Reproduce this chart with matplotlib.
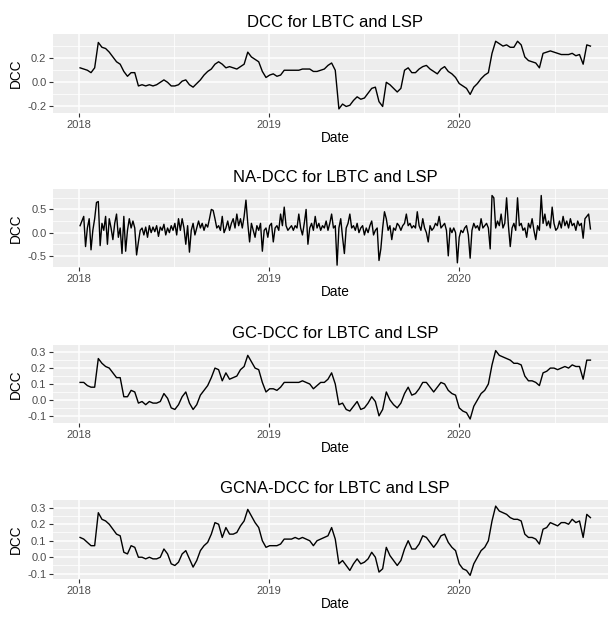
import pandas as pd
import matplotlib
matplotlib.use("Agg")
import matplotlib.pyplot as plt

plt.rcParams['font.family'] = ['Liberation Sans', 'DejaVu Sans']

# weekly readings of the smooth DCC series, starting 2018-01-03
dcc = [0.12, 0.11, 0.10, 0.08, 0.12, 0.33, 0.29, 0.28, 0.25, 0.21,
       0.17, 0.15, 0.09, 0.05, 0.08, 0.08, -0.03, -0.02, -0.03, -0.02,
       -0.03, -0.02, 0.00, 0.02, 0.00, -0.03, -0.03, -0.02, 0.01, 0.02,
       -0.02, -0.04, -0.01, 0.02, 0.06, 0.09, 0.11, 0.15, 0.17, 0.15,
       0.12, 0.13, 0.12, 0.11, 0.13, 0.15, 0.25, 0.21, 0.19, 0.17,
       0.09, 0.04, 0.06, 0.07, 0.05, 0.06, 0.10, 0.10, 0.10, 0.10,
       0.10, 0.11, 0.11, 0.11, 0.09, 0.09, 0.10, 0.11, 0.14, 0.16,
       0.10, -0.22, -0.18, -0.20, -0.19, -0.15, -0.12, -0.14, -0.13, -0.09,
       -0.05, -0.04, -0.16, -0.20, 0.00, -0.02, -0.05, -0.08, -0.05, 0.10,
       0.12, 0.08, 0.08, 0.11, 0.13, 0.14, 0.11, 0.09, 0.07, 0.11,
       0.13, 0.09, 0.07, 0.04, -0.01, -0.03, -0.05, -0.10, -0.04, -0.01,
       0.03, 0.06, 0.08, 0.24, 0.34, 0.32, 0.30, 0.31, 0.29, 0.29,
       0.34, 0.31, 0.21, 0.18, 0.17, 0.16, 0.12, 0.24, 0.25, 0.26,
       0.25, 0.24, 0.23, 0.23, 0.23, 0.24, 0.22, 0.23, 0.15, 0.31, 0.30]

gc_dcc = [0.11, 0.11, 0.09, 0.08, 0.08, 0.26, 0.23, 0.21, 0.20, 0.17,
          0.14, 0.14, 0.02, 0.02, 0.06, 0.05, -0.02, -0.01, -0.03, -0.01,
          -0.02, -0.02, -0.01, 0.04, 0.01, -0.05, -0.06, -0.03, 0.02, 0.05,
          -0.02, -0.06, -0.03, 0.03, 0.06, 0.09, 0.14, 0.20, 0.19, 0.12,
          0.17, 0.13, 0.14, 0.15, 0.19, 0.21, 0.28, 0.24, 0.20, 0.19,
          0.11, 0.05, 0.07, 0.07, 0.06, 0.08, 0.11, 0.11, 0.11, 0.11,
          0.11, 0.12, 0.11, 0.10, 0.07, 0.09, 0.11, 0.11, 0.13, 0.17,
          0.10, -0.03, -0.02, -0.06, -0.07, -0.04, -0.01, -0.06, -0.05, -0.02,
          0.02, -0.01, -0.10, -0.06, 0.05, 0.00, -0.03, -0.05, -0.02, 0.04,
          0.08, 0.03, 0.04, 0.07, 0.11, 0.11, 0.08, 0.05, 0.08, 0.11,
          0.10, 0.06, 0.04, 0.03, -0.05, -0.07, -0.08, -0.12, -0.04, 0.00,
          0.04, 0.06, 0.10, 0.22, 0.31, 0.28, 0.27, 0.26, 0.25, 0.23,
          0.23, 0.22, 0.15, 0.12, 0.12, 0.11, 0.09, 0.17, 0.18, 0.20,
          0.20, 0.19, 0.20, 0.21, 0.20, 0.22, 0.21, 0.21, 0.13, 0.25, 0.25]

gcna_dcc = [0.12, 0.11, 0.09, 0.07, 0.07, 0.27, 0.23, 0.22, 0.20, 0.17,
            0.14, 0.13, 0.03, 0.02, 0.07, 0.06, 0.00, 0.00, -0.01, 0.00,
            -0.01, -0.01, 0.00, 0.05, 0.02, -0.04, -0.05, -0.03, 0.02, 0.04,
            -0.01, -0.06, -0.02, 0.04, 0.07, 0.09, 0.14, 0.21, 0.20, 0.12,
            0.18, 0.14, 0.14, 0.15, 0.19, 0.22, 0.29, 0.25, 0.21, 0.18,
            0.10, 0.06, 0.07, 0.07, 0.07, 0.08, 0.11, 0.11, 0.11, 0.12,
            0.11, 0.12, 0.11, 0.10, 0.07, 0.10, 0.11, 0.12, 0.13, 0.18,
            0.11, -0.04, -0.02, -0.05, -0.08, -0.04, -0.01, -0.04, -0.03, -0.01,
            0.03, 0.00, -0.09, -0.07, 0.06, 0.01, -0.02, -0.05, -0.02, 0.05,
            0.10, 0.05, 0.05, 0.08, 0.13, 0.12, 0.09, 0.06, 0.09, 0.13,
            0.14, 0.09, 0.06, 0.04, -0.04, -0.07, -0.08, -0.11, -0.04, 0.00,
            0.04, 0.06, 0.10, 0.22, 0.31, 0.28, 0.27, 0.26, 0.24, 0.23,
            0.23, 0.22, 0.14, 0.12, 0.12, 0.11, 0.08, 0.17, 0.18, 0.21,
            0.20, 0.19, 0.21, 0.21, 0.20, 0.23, 0.21, 0.22, 0.12, 0.26, 0.24]

# twice-weekly readings of the noisy NA-DCC series
na_dcc = [0.15, 0.25, 0.35, -0.30, 0.10, 0.30, -0.37, 0.05, 0.30, 0.65, 0.67, -0.28, 0.20, 0.05, 0.35, -0.25, 0.30, 0.10, -0.15, 0.20,
          0.40, -0.10, 0.10, -0.45, 0.35, -0.40, 0.05, 0.30, 0.10, 0.25, 0.10, -0.48, -0.20, 0.05, 0.10, -0.05, 0.12, -0.10, 0.15, 0.00,
          0.12, 0.02, 0.15, -0.08, 0.12, 0.05, 0.18, -0.05, 0.10, 0.00, 0.15, 0.05, 0.20, -0.05, 0.30, 0.05, 0.30, 0.10, -0.25, 0.15,
          -0.42, 0.05, 0.20, -0.05, 0.10, 0.25, 0.10, 0.20, 0.05, 0.18, 0.12, 0.30, 0.50, 0.48, 0.30, 0.10, 0.15, 0.05, 0.35, 0.00,
          0.10, 0.25, 0.05, 0.20, 0.30, 0.10, 0.40, 0.15, 0.30, 0.10, 0.35, 0.70, 0.20, -0.20, 0.20, 0.05, -0.10, 0.15, 0.05, 0.20,
          -0.40, 0.05, 0.10, -0.10, 0.15, 0.20, -0.20, 0.10, 0.15, 0.05, 0.40, 0.15, 0.55, 0.15, 0.05, 0.10, 0.15, 0.05, 0.15, 0.10,
          0.40, 0.10, -0.05, 0.20, 0.50, -0.25, 0.10, 0.20, 0.05, 0.35, 0.10, 0.20, 0.05, 0.15, 0.10, 0.25, 0.05, 0.20, 0.40, 0.10,
          0.15, -0.70, 0.10, 0.30, -0.10, -0.45, 0.10, 0.20, 0.40, 0.10, 0.15, 0.05, 0.20, 0.00, 0.10, 0.15, -0.05, 0.10, 0.00, 0.15,
          0.25, -0.05, 0.05, 0.10, -0.60, -0.35, 0.10, 0.45, 0.30, 0.05, 0.15, -0.15, 0.10, 0.05, 0.20, 0.15, 0.05, 0.15, 0.20, 0.40,
          0.15, 0.20, 0.10, 0.15, 0.10, 0.45, 0.15, 0.05, 0.30, 0.10, 0.00, -0.20, 0.15, 0.05, 0.10, 0.20, 0.15, 0.35, 0.10, 0.15,
          0.20, 0.05, -0.50, 0.10, 0.00, 0.10, 0.00, -0.65, -0.10, 0.05, 0.00, 0.10, 0.15, -0.05, -0.55, 0.05, 0.20, 0.10, 0.15, 0.05,
          0.30, 0.10, 0.15, 0.20, 0.10, -0.35, 0.80, 0.75, 0.10, 0.25, 0.15, 0.40, 0.10, 0.20, 0.75, 0.15, -0.30, 0.10, 0.20, 0.05,
          0.75, 0.15, 0.20, 0.05, 0.10, -0.10, 0.20, 0.10, 0.30, 0.05, -0.15, 0.15, 0.05, 0.80, 0.20, 0.40, 0.15, 0.25, 0.10, 0.55,
          0.20, 0.05, 0.10, 0.25, 0.10, 0.35, 0.15, 0.25, 0.10, 0.30, 0.15, 0.20, 0.05, 0.25, 0.15, 0.20, -0.12, 0.30, 0.35, 0.40, 0.08]

week_dates = pd.date_range("2018-01-03", periods=len(dcc), freq="7D")
na_dates = pd.date_range("2018-01-03", periods=len(na_dcc), freq="84h")

year_labels = ["2018", "2019", "2020"]
year_ticks = [pd.Timestamp(y + "-01-01") for y in year_labels]
half_ticks = [pd.Timestamp(y + "-07-02") for y in year_labels]

panels = [
    ("DCC for LBTC and LSP", week_dates, dcc, (-0.254, 0.40), [-0.2, 0.0, 0.2], [-0.1, 0.1, 0.3], 34, 113),
    ("NA-DCC for LBTC and LSP", na_dates, na_dcc, (-0.74, 0.94), [-0.5, 0.0, 0.5], [-0.25, 0.25, 0.75], 189, 267),
    ("GC-DCC for LBTC and LSP", week_dates, gc_dcc, (-0.145, 0.345), [-0.1, 0.0, 0.1, 0.2, 0.3], [-0.05, 0.05, 0.15, 0.25], 345, 423),
    ("GCNA-DCC for LBTC and LSP", week_dates, gcna_dcc, (-0.132, 0.347), [-0.1, 0.0, 0.1, 0.2, 0.3], [-0.05, 0.05, 0.15, 0.25], 500, 579),
]

W, H = 608, 617
fig = plt.figure(figsize=(W / 100, H / 100), dpi=100)

for title, x, y, ylim, yt, ym, top, bot in panels:
    # panel runs a little past the right edge, as in the cropped original
    ax = fig.add_axes([53 / W, 1 - bot / H, 564 / W, (bot - top) / H])
    ax.set_facecolor("#EDEDED")
    ax.plot(x, y, color="black", lw=1.0)
    ax.set_xlim(pd.Timestamp("2017-11-12"), pd.Timestamp("2020-10-30"))
    ax.set_ylim(ylim)
    ax.set_xticks(year_ticks)
    ax.set_xticklabels(year_labels)
    ax.set_xticks(half_ticks, minor=True)
    ax.set_yticks(yt)
    ax.set_yticklabels(["{:.1f}".format(v) for v in yt])
    ax.set_yticks(ym, minor=True)
    ax.grid(which="major", color="white", lw=1.1)
    ax.grid(which="minor", color="white", lw=0.55)
    ax.set_axisbelow(True)
    for s in ax.spines.values():
        s.set_visible(False)
    ax.tick_params(which="major", length=2.9, width=0.8, color="#333333",
                   labelsize=8, labelcolor="#4D4D4D", pad=1.8)
    ax.tick_params(which="minor", length=0)
    ax.set_title(title, fontsize=12, pad=5)
    ax.set_xlabel("Date", fontsize=9.8, labelpad=1)
    ax.set_ylabel("DCC", fontsize=9.8, labelpad=3.5)

fig.savefig("out.png", dpi=100)
